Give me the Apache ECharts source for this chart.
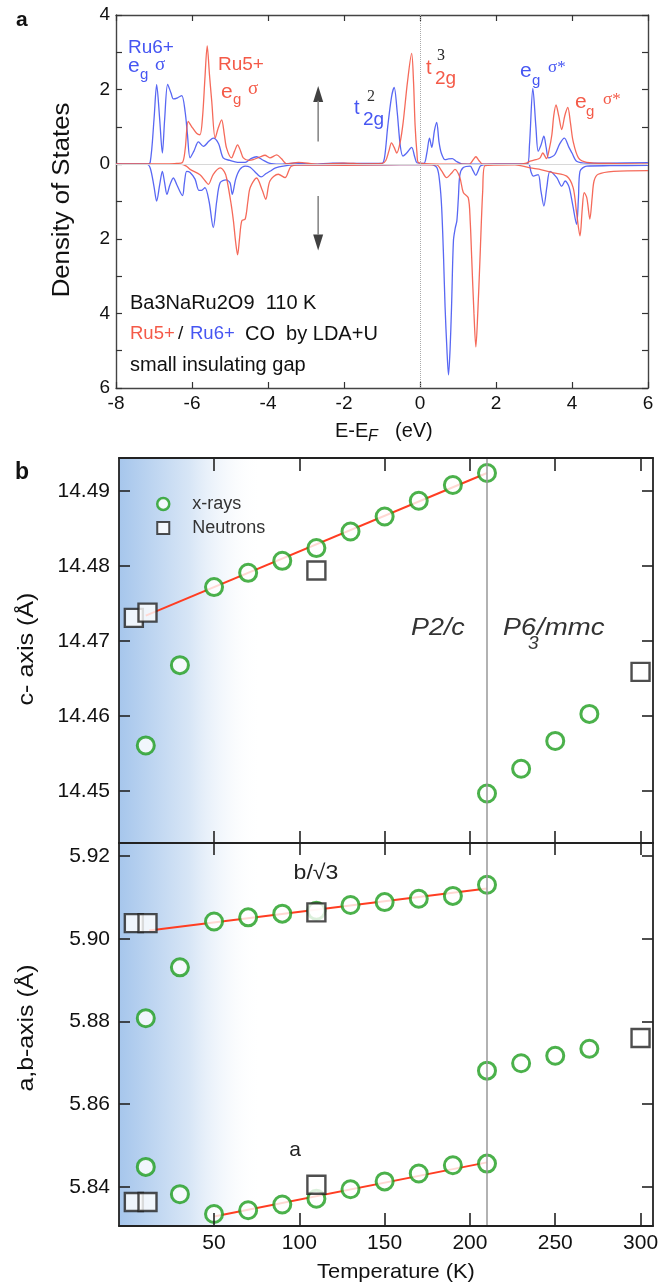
<!DOCTYPE html>
<html><head><meta charset="utf-8">
<script src="https://cdn.jsdelivr.net/npm/echarts@6/dist/echarts.min.js"></script>
<style>html,body{margin:0;padding:0;background:#fff}#c{width:671px;height:1283px}</style>
</head><body><div id="c"></div>
<script>
// ---------- Panel a: DOS (energy eV, states); spin-down drawn negative ----------
const dosRu6Up = [[-8,0],[-7.2,0],[-7.1,0.05],[-7.0,1.2],[-6.93,2.13],[-6.85,1.2],[-6.78,0.3],[-6.72,1.2],[-6.64,2.14],[-6.55,1.9],[-6.49,1.75],[-6.38,1.78],[-6.27,1.84],[-6.18,1.4],[-6.12,0.8],[-6.05,0.17],[-5.95,0.35],[-5.83,0.6],[-5.7,0.48],[-5.55,0.62],[-5.44,0.7],[-5.3,0.55],[-5.18,0.17],[-5.0,0.1],[-4.8,0.05],[-4.6,0.05],[-4.45,0.15],[-4.3,0.2],[-4.15,0.12],[-3.95,0.02],[-3.7,0.0],[-3.3,0.03],[-2.8,0.0],[-2.3,0.03],[-1.8,0.02],[-1.3,0.02],[-1.0,0.02],[-0.93,0.2],[-0.85,1.0],[-0.75,1.8],[-0.68,2.06],[-0.6,1.4],[-0.52,0.5],[-0.45,0.22],[-0.35,0.3],[-0.22,0.45],[-0.14,0.2],[-0.08,0.04],[0.1,0.02],[0.18,0.3],[0.25,0.7],[0.31,0.45],[0.38,0.9],[0.44,1.12],[0.5,0.6],[0.56,0.3],[0.66,0.12],[0.75,0.14],[0.85,0.15],[0.95,0.08],[1.1,0.01],[2.0,0.0],[2.82,0.0],[2.88,0.5],[2.97,2.03],[3.05,1.0],[3.11,0.35],[3.18,0.5],[3.26,0.75],[3.32,0.45],[3.38,0.17],[3.47,0.2],[3.55,0.26],[3.68,0.55],[3.8,0.7],[3.92,0.45],[4.0,0.3],[4.12,0.08],[4.4,0.03],[5.0,0.03],[6,0.04]];
const dosRu6Down = [[-8,0],[-7.2,0],[-7.1,-0.1],[-7.0,-0.6],[-6.93,-0.99],[-6.85,-0.55],[-6.78,-0.19],[-6.72,-0.5],[-6.66,-0.81],[-6.58,-0.55],[-6.49,-0.37],[-6.4,-0.55],[-6.25,-0.84],[-6.2,-0.5],[-6.14,-0.19],[-6.05,-0.22],[-5.92,-0.4],[-5.82,-0.7],[-5.75,-0.7],[-5.66,-0.63],[-5.55,-1.0],[-5.44,-1.7],[-5.35,-1.0],[-5.26,-0.5],[-5.1,-0.42],[-5.0,-0.5],[-4.94,-0.81],[-4.85,-0.4],[-4.74,-0.14],[-4.6,-0.05],[-4.47,-0.08],[-4.3,-0.25],[-4.18,-0.34],[-4.05,-0.25],[-3.95,-0.19],[-3.8,-0.1],[-3.6,-0.05],[-3.3,-0.02],[-2.5,-0.02],[-1.5,-0.02],[-0.5,-0.01],[0.3,-0.01],[0.45,-0.1],[0.52,-0.5],[0.57,-1.16],[0.62,-2.5],[0.66,-3.83],[0.71,-5.0],[0.75,-5.65],[0.79,-5.0],[0.83,-3.83],[0.88,-2.05],[0.93,-1.7],[0.97,-1.52],[1.01,-0.9],[1.05,-0.28],[1.14,-0.09],[1.32,-0.05],[1.4,-0.18],[1.47,-0.3],[1.53,-0.18],[1.6,-0.04],[2.0,0],[2.85,0],[2.92,-0.2],[2.98,-0.32],[3.11,-0.28],[3.18,-0.7],[3.26,-1.12],[3.34,-0.6],[3.42,-0.19],[3.6,-0.36],[3.73,-0.59],[3.82,-0.45],[3.92,-0.6],[4.02,-1.1],[4.12,-1.61],[4.17,-0.9],[4.21,-0.19],[4.39,-0.05],[5,-0.04],[6,-0.03]];
const dosRu5Up = [[-8,0],[-6.6,0],[-6.4,0.02],[-6.25,0.05],[-6.18,0.4],[-6.1,1.15],[-6.01,1.01],[-5.88,0.83],[-5.79,0.79],[-5.72,1.3],[-5.66,2.3],[-5.6,3.17],[-5.54,2.4],[-5.48,1.68],[-5.39,0.7],[-5.31,0.97],[-5.22,1.19],[-5.15,0.8],[-5.09,0.43],[-4.96,0.17],[-4.88,0.35],[-4.8,0.52],[-4.72,0.35],[-4.65,0.17],[-4.5,0.1],[-4.39,0.12],[-4.2,0.2],[-4.08,0.24],[-3.95,0.17],[-3.77,0.25],[-3.65,0.15],[-3.51,0.01],[-3.2,0.05],[-2.7,0.0],[-2.0,0.03],[-1.5,0.01],[-1.0,0.02],[-0.9,0.1],[-0.82,0.35],[-0.75,0.57],[-0.68,0.45],[-0.61,0.3],[-0.52,0.6],[-0.44,1.15],[-0.33,2.2],[-0.22,2.97],[-0.17,2.2],[-0.13,1.06],[-0.08,0.3],[-0.04,0.04],[0.5,0.0],[1.3,0.0],[1.4,0.12],[1.47,0.2],[1.55,0.1],[1.65,0.0],[2.6,0.0],[2.8,0.03],[2.9,0.08],[3.05,0.12],[3.16,0.17],[3.23,0.3],[3.33,0.15],[3.4,0.4],[3.47,0.79],[3.52,1.3],[3.58,1.59],[3.65,1.3],[3.73,0.93],[3.81,1.3],[3.89,1.52],[3.96,1.1],[4.03,0.61],[4.17,0.17],[4.39,0.05],[5,0.02],[6,0.0]];
const dosRu5Down = [[-8,0],[-6.3,0],[-6.15,-0.05],[-6.05,-0.14],[-5.79,-0.28],[-5.65,-0.45],[-5.57,-0.54],[-5.44,-0.27],[-5.26,-0.1],[-5.15,-0.2],[-5.09,-0.37],[-4.97,-1.07],[-4.91,-1.52],[-4.85,-2.1],[-4.8,-2.43],[-4.75,-2.0],[-4.69,-1.52],[-4.6,-1.47],[-4.53,-1.0],[-4.47,-0.63],[-4.3,-0.37],[-4.15,-0.7],[-4.06,-0.94],[-3.95,-0.45],[-3.73,-0.27],[-3.55,-0.36],[-3.38,-0.05],[-3.0,-0.02],[-2.0,-0.03],[-1.0,-0.02],[0.0,-0.01],[0.44,-0.02],[0.57,-0.18],[0.7,-0.36],[0.82,-0.25],[0.92,-0.14],[1.05,-0.36],[1.14,-0.76],[1.27,-0.9],[1.32,-1.5],[1.36,-2.5],[1.42,-4.0],[1.47,-4.9],[1.52,-4.0],[1.58,-2.5],[1.65,-0.72],[1.71,-0.04],[2.5,-0.02],[2.9,-0.1],[3.2,-0.15],[3.51,-0.23],[3.86,-0.32],[4.03,-0.63],[4.12,-1.3],[4.21,-1.92],[4.27,-1.2],[4.32,-0.76],[4.39,-0.9],[4.47,-1.47],[4.53,-0.9],[4.58,-0.45],[4.69,-0.27],[5.09,-0.19],[6,-0.17]];
const spinArrowUp = [[-2.68,0.61],[-2.68,1.7]];
const spinArrowDown = [[-2.68,-0.85],[-2.68,-1.9]];
const arrowHeads = [[-2.68,1.88,0],[-2.68,-2.1,180]];

// ---------- Panel b: lattice constants vs temperature ----------
const tempTicks = [50,100,150,200,250,300];
const cTicks = [14.45,14.46,14.47,14.48,14.49];
const abTicks = [5.84,5.86,5.88,5.90,5.92];
const cXray = [[10,14.4561],[30,14.4668],[50,14.4772],[70,14.4791],[90,14.4807],[110,14.4824],[130,14.4846],[150,14.4866],[170,14.4887],[190,14.4908],[210,14.4924],[210,14.4497],[230,14.4530],[250,14.4567],[270,14.4603]];
const cNeutron = [[3,14.4731],[11,14.4738],[110,14.4794],[300,14.4659]];
const cFit = [[10,14.4734],[210,14.4924]];
const abXray = [[10,5.8808],[30,5.8931],[50,5.9042],[70,5.9052],[90,5.9061],[110,5.9068],[130,5.9082],[150,5.9089],[170,5.9097],[190,5.9104],[210,5.9131],
  [10,5.8448],[30,5.8382],[50,5.8334],[70,5.8343],[90,5.8357],[110,5.8371],[130,5.8394],[150,5.8413],[170,5.8432],[190,5.8452],[210,5.8456],
  [210,5.8681],[230,5.8699],[250,5.8717],[270,5.8734]];
const abNeutron = [[3,5.9038],[11,5.9038],[110,5.9064],[3,5.8363],[11,5.8363],[110,5.8405],[300,5.8760]];
const bFit = [[12,5.9020],[210,5.9122]];
const aFit = [[50,5.8328],[210,5.8459]];
const transitionT = 210;
const lowTempShade = [-5.7, 78];

const BLUE = '#4656f2', RED = '#f45a48', GREEN = '#1e9e1e';
const SANS = "'Liberation Sans', Arial, Helvetica, sans-serif";
const SERIF = "'Liberation Serif', 'DejaVu Serif', serif";

function txt(text, x, y, o) {
  o = o || {};
  return {
    type: 'text', x: x, y: y, rotation: o.rot || 0, scaleX: o.sx || 1, scaleY: 1, z: 100,
    style: {
      text: text, fill: o.color || '#111',
      fontSize: o.size || 20, fontFamily: o.family || SANS,
      fontStyle: o.italic ? 'italic' : 'normal', fontWeight: o.bold ? 'bold' : 'normal',
      align: o.align || 'left', verticalAlign: 'middle',
      textAlign: o.align || 'left', textVerticalAlign: 'middle'
    }
  };
}

const tickStyleA = { inside: true, length: 6, lineStyle: { color: '#333', width: 1.2 } };
const axisLineA = { onZero: false, lineStyle: { color: '#444', width: 1.4 } };
const tickStyleB = (len) => ({ inside: true, length: len, customValues: tempTicks, lineStyle: { color: '#222', width: 1.6 } });
const axisLineB = { onZero: false, lineStyle: { color: '#222', width: 1.8 } };
const shadeColor = { type: 'linear', x: 0, y: 0, x2: 1, y2: 0,
  colorStops: [{ offset: 0, color: 'rgb(166,198,236)' }, { offset: 0.5, color: 'rgb(216,230,246)' }, { offset: 1, color: 'rgba(255,255,255,0)' }] };

function dosLine(name, data, color) {
  return { name: name, type: 'line', xAxisIndex: 0, yAxisIndex: 0, data: data, showSymbol: false,
    smooth: 0.3, lineStyle: { color: color, width: 1.3, opacity: 0.9 }, z: 3, silent: true };
}

const option = {
  animation: false,
  backgroundColor: '#fff',
  grid: [
    { left: 116, top: 15, width: 532, height: 373 },
    { left: 119, top: 458, width: 534, height: 385 },
    { left: 119, top: 843, width: 534, height: 383 }
  ],
  legend: {
    left: 151, top: 490, orient: 'vertical', itemWidth: 12, itemHeight: 12, itemGap: 6,
    textStyle: { fontSize: 18, color: '#333', fontFamily: SANS, padding: [0, 0, 0, 18] },
    data: [
      { name: 'x-rays', icon: 'circle', itemStyle: { color: '#fff', borderColor: GREEN, borderWidth: 2.5 } },
      { name: 'Neutrons', icon: 'rect', itemStyle: { color: '#fff', borderColor: '#222', borderWidth: 2 } }
    ],
    selectedMode: false
  },
  xAxis: [
    { gridIndex: 0, type: 'value', min: -8, max: 6, interval: 2, position: 'bottom',
      axisLine: axisLineA, axisTick: tickStyleA, splitLine: { show: false },
      axisLabel: { fontSize: 19, color: '#111', margin: 6, fontFamily: SANS } },
    { gridIndex: 0, type: 'value', min: -8, max: 6, interval: 2, position: 'top',
      axisLine: axisLineA, axisTick: tickStyleA, splitLine: { show: false }, axisLabel: { show: false } },
    { gridIndex: 1, type: 'value', min: -5.7, max: 307.3, position: 'top', z: 10,
      axisLine: axisLineB, axisTick: tickStyleB(13), splitLine: { show: false }, axisLabel: { show: false } },
    { gridIndex: 1, type: 'value', min: -5.7, max: 307.3, position: 'bottom', z: 10,
      axisLine: axisLineB, axisTick: tickStyleB(12), splitLine: { show: false }, axisLabel: { show: false } },
    { gridIndex: 2, type: 'value', min: -5.7, max: 307.3, position: 'top', z: 10,
      axisLine: axisLineB, axisTick: tickStyleB(12), splitLine: { show: false }, axisLabel: { show: false } },
    { gridIndex: 2, type: 'value', min: -5.7, max: 307.3, position: 'bottom', z: 10,
      axisLine: axisLineB, axisTick: tickStyleB(13), splitLine: { show: false },
      axisLabel: { customValues: tempTicks, fontSize: 21, color: '#111', margin: 7, fontFamily: SANS } }
  ],
  yAxis: [
    { gridIndex: 0, type: 'value', min: -6, max: 4, interval: 1, position: 'left',
      axisLine: axisLineA, axisTick: tickStyleA, splitLine: { show: false },
      axisLabel: { fontSize: 19, color: '#111', margin: 6, fontFamily: SANS,
        formatter: v => (Math.round(v) % 2 === 0 ? String(Math.abs(Math.round(v))) : '') } },
    { gridIndex: 0, type: 'value', min: -6, max: 4, interval: 1, position: 'right',
      axisLine: axisLineA, axisTick: tickStyleA, splitLine: { show: false }, axisLabel: { show: false } },
    { gridIndex: 1, type: 'value', min: 14.4431, max: 14.4944, position: 'left', z: 10,
      axisLine: axisLineB, axisTick: { inside: true, length: 11, customValues: cTicks, lineStyle: { color: '#222', width: 1.6 } },
      splitLine: { show: false },
      axisLabel: { customValues: cTicks, fontSize: 21, color: '#111', margin: 9, fontFamily: SANS, formatter: v => v.toFixed(2) } },
    { gridIndex: 1, type: 'value', min: 14.4431, max: 14.4944, position: 'right', z: 10,
      axisLine: axisLineB, axisTick: { inside: true, length: 11, customValues: cTicks, lineStyle: { color: '#222', width: 1.6 } },
      splitLine: { show: false }, axisLabel: { show: false } },
    { gridIndex: 2, type: 'value', min: 5.8305, max: 5.9232, position: 'left', z: 10,
      axisLine: axisLineB, axisTick: { inside: true, length: 11, customValues: abTicks, lineStyle: { color: '#222', width: 1.6 } },
      splitLine: { show: false },
      axisLabel: { customValues: abTicks, fontSize: 21, color: '#111', margin: 9, fontFamily: SANS, formatter: v => v.toFixed(2) } },
    { gridIndex: 2, type: 'value', min: 5.8305, max: 5.9232, position: 'right', z: 10,
      axisLine: axisLineB, axisTick: { inside: true, length: 11, customValues: abTicks, lineStyle: { color: '#222', width: 1.6 } },
      splitLine: { show: false }, axisLabel: { show: false } }
  ],
  series: [
    Object.assign(dosLine('Ru6+ up', dosRu6Up, BLUE), {
      markLine: { silent: true, symbol: 'none', label: { show: false },
        data: [
          { yAxis: 0, lineStyle: { color: '#d8d8d8', width: 1, type: 'solid' } },
          { xAxis: 0, lineStyle: { color: '#aaa', width: 1, type: 'dotted' } }
        ] } }),
    dosLine('Ru6+ down', dosRu6Down, BLUE),
    dosLine('Ru5+ up', dosRu5Up, RED),
    dosLine('Ru5+ down', dosRu5Down, RED),
    { name: 'spin up', type: 'line', xAxisIndex: 0, yAxisIndex: 0, data: spinArrowUp, showSymbol: false,
      lineStyle: { color: '#888', width: 1.6 }, silent: true },
    { name: 'spin down', type: 'line', xAxisIndex: 0, yAxisIndex: 0, data: spinArrowDown, showSymbol: false,
      lineStyle: { color: '#888', width: 1.6 }, silent: true },
    { name: 'arrow heads', type: 'scatter', xAxisIndex: 0, yAxisIndex: 0, data: arrowHeads,
      symbol: 'triangle', symbolSize: [10, 16], symbolRotate: (v) => v[2],
      itemStyle: { color: '#111' }, silent: true },

    // shading (low-temperature region) and transition line
    { name: 'shade c', type: 'line', xAxisIndex: 2, yAxisIndex: 2, data: [], z: 0, silent: true,
      markArea: { silent: true, data: [[{ xAxis: lowTempShade[0] }, { xAxis: lowTempShade[1] }]], itemStyle: { color: shadeColor } },
      markLine: { silent: true, symbol: 'none', label: { show: false },
        lineStyle: { color: '#999', width: 1.5, type: 'solid' }, data: [{ xAxis: transitionT }] } },
    { name: 'shade ab', type: 'line', xAxisIndex: 5, yAxisIndex: 4, data: [], z: 0, silent: true,
      markArea: { silent: true, data: [[{ xAxis: lowTempShade[0] }, { xAxis: lowTempShade[1] }]], itemStyle: { color: shadeColor } },
      markLine: { silent: true, symbol: 'none', label: { show: false },
        lineStyle: { color: '#999', width: 1.5, type: 'solid' }, data: [{ xAxis: transitionT }] } },

    // upper panel b
    { name: 'c fit', type: 'line', xAxisIndex: 2, yAxisIndex: 2, data: cFit, showSymbol: false,
      lineStyle: { color: '#ff3d22', width: 2 }, z: 2, silent: true },
    { name: 'x-rays', type: 'scatter', xAxisIndex: 2, yAxisIndex: 2, data: cXray,
      symbol: 'circle', symbolSize: 17, itemStyle: { color: '#fff', borderColor: GREEN, borderWidth: 3 }, z: 4 },
    { name: 'Neutrons', type: 'scatter', xAxisIndex: 2, yAxisIndex: 2, data: cNeutron,
      symbol: 'rect', symbolSize: 18, itemStyle: { color: '#fff', borderColor: '#222', borderWidth: 2.4 }, z: 5 },

    // lower panel b
    { name: 'b fit', type: 'line', xAxisIndex: 5, yAxisIndex: 4, data: bFit, showSymbol: false,
      lineStyle: { color: '#ff3d22', width: 2 }, z: 2, silent: true },
    { name: 'a fit', type: 'line', xAxisIndex: 5, yAxisIndex: 4, data: aFit, showSymbol: false,
      lineStyle: { color: '#ff3d22', width: 2 }, z: 2, silent: true },
    { name: 'x-rays', type: 'scatter', xAxisIndex: 5, yAxisIndex: 4, data: abXray,
      symbol: 'circle', symbolSize: 17, itemStyle: { color: '#fff', borderColor: GREEN, borderWidth: 3 }, z: 4 },
    { name: 'Neutrons', type: 'scatter', xAxisIndex: 5, yAxisIndex: 4, data: abNeutron,
      symbol: 'rect', symbolSize: 18, itemStyle: { color: '#fff', borderColor: '#222', borderWidth: 2.4 }, z: 5 }
  ],
  graphic: [
    // panel a
    txt('a', 16, 20, { bold: true, size: 21 }),
    txt('Density of States', 63, 200, { rot: Math.PI / 2, align: 'center', size: 23, sx: 1.12 }),
    txt('E-E', 335, 431, { size: 20 }),
    txt('F', 368, 437, { size: 16, italic: true }),
    txt('(eV)', 395, 431, { size: 20 }),
    txt('Ru6+', 128, 48, { color: BLUE, size: 19 }),
    txt('e', 128, 66, { color: BLUE, size: 21 }),
    txt('g', 140, 75, { color: BLUE, size: 15 }),
    txt('\u03c3', 155, 65, { color: BLUE, size: 19, family: SERIF }),
    txt('Ru5+', 218, 65, { color: RED, size: 19 }),
    txt('e', 221, 92, { color: RED, size: 21 }),
    txt('g', 233, 100, { color: RED, size: 15 }),
    txt('\u03c3', 248, 89, { color: RED, size: 19, family: SERIF }),
    txt('t', 354, 108, { color: BLUE, size: 20 }),
    txt('2', 367, 97, { color: '#333', size: 16, family: SERIF }),
    txt('2g', 363, 120, { color: BLUE, size: 19 }),
    txt('t', 426, 68, { color: RED, size: 20 }),
    txt('3', 437, 56, { color: '#222', size: 16, family: SERIF }),
    txt('2g', 435, 79, { color: RED, size: 19 }),
    txt('e', 520, 71, { color: BLUE, size: 21 }),
    txt('g', 532, 81, { color: BLUE, size: 15 }),
    txt('\u03c3*', 548, 68, { color: BLUE, size: 17, family: SERIF }),
    txt('e', 575, 102, { color: RED, size: 21 }),
    txt('g', 586, 112, { color: RED, size: 15 }),
    txt('\u03c3*', 603, 100, { color: RED, size: 17, family: SERIF }),
    txt('Ba3NaRu2O9  110 K', 130, 303, { size: 20 }),
    txt('Ru5+', 130, 334, { color: RED, size: 18.5 }),
    txt('/', 178, 334, { size: 19 }),
    txt('Ru6+', 190, 334, { color: BLUE, size: 18.5 }),
    txt('CO  by LDA+U', 245, 334, { size: 20 }),
    txt('small insulating gap', 130, 365, { size: 20 }),
    // panel b
    txt('b', 15, 473, { bold: true, size: 23 }),
    txt('c- axis (\u00c5)', 27, 649, { rot: Math.PI / 2, align: 'center', size: 22, sx: 1.14 }),
    txt('a,b-axis (\u00c5)', 27, 1028, { rot: Math.PI / 2, align: 'center', size: 22, sx: 1.13 }),
    txt('Temperature (K)', 396, 1272, { align: 'center', size: 21, sx: 1.04 }),
    txt('b/\u221a3', 316, 873, { align: 'center', size: 21, sx: 1.1, color: '#222' }),
    txt('a', 295, 1150, { align: 'center', size: 21, color: '#222' }),
    txt('P2/c', 411, 628, { italic: true, size: 24, sx: 1.12, color: '#333' }),
    txt('P6', 503, 628, { italic: true, size: 24, sx: 1.12, color: '#333' }),
    txt('3', 528, 644, { italic: true, size: 19, color: '#333' }),
    txt('/mmc', 537, 628, { italic: true, size: 24, sx: 1.15, color: '#333' })
  ]
};

const chart = echarts.init(document.getElementById('c'), null, { renderer: 'canvas', width: 671, height: 1283 });
chart.setOption(option);
</script>
</body></html>
